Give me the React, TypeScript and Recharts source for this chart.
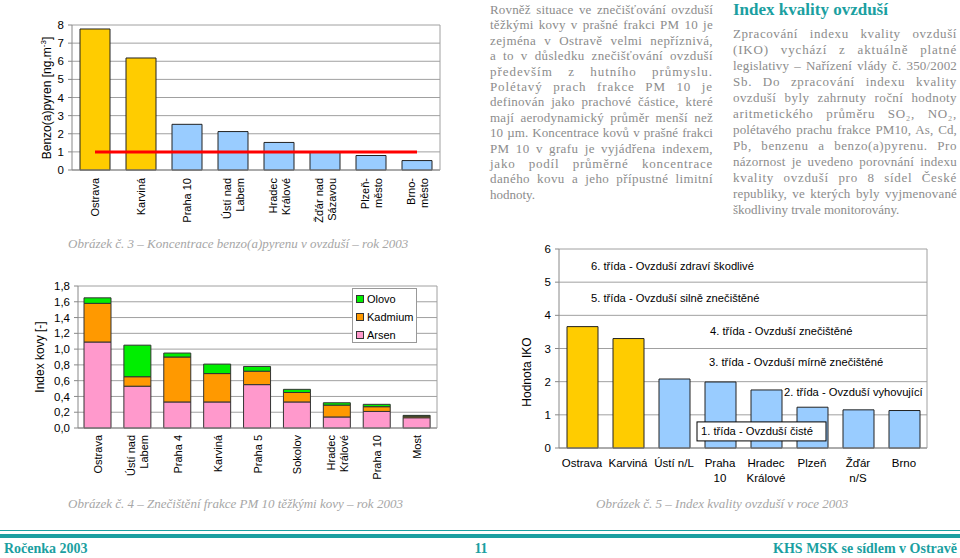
import React from 'react';
import {
  BarChart,
  Bar,
  Line,
  ComposedChart,
  XAxis,
  YAxis,
  CartesianGrid,
  Cell,
  ReferenceLine,
} from 'recharts';

// Obrázek 3 - benzo(a)pyren
const benzoCities = ['Ostrava', 'Karviná', 'Praha 10', 'Ústí nad\nLabem', 'Hradec\nKrálové', 'Žďár nad\nSázavou', 'Plzeň-\nměsto', 'Brno-\nměsto'];
const benzoValues = [7.78, 6.18, 2.52, 2.12, 1.52, 0.98, 0.8, 0.52];
const benzoLimit = [1, 1, 1, 1, 1, 1, 1, 1];
const benzoTicks = [0, 1, 2, 3, 4, 5, 6, 7, 8];

// Obrázek 4 - tezke kovy
const metalCities = ['Ostrava', 'Ústí nad\nLabem', 'Praha 4', 'Karviná', 'Praha 5', 'Sokolov', 'Hradec\nKrálové', 'Praha 10', 'Most'];
const arsen = [1.09, 0.53, 0.33, 0.33, 0.55, 0.33, 0.14, 0.21, 0.13];
const kadmium = [0.49, 0.12, 0.57, 0.36, 0.17, 0.12, 0.15, 0.06, 0.02];
const olovo = [0.07, 0.4, 0.05, 0.12, 0.06, 0.04, 0.03, 0.03, 0.01];
const metalTicks = [0, 0.2, 0.4, 0.6, 0.8, 1.0, 1.2, 1.4, 1.6, 1.8];

// Obrázek 5 - IKO
const ikoCities = ['Ostrava', 'Karviná', 'Ústí n/L', 'Praha\n10', 'Hradec\nKrálové', 'Plzeň', 'Žďár\nn/S', 'Brno'];
const ikoValues = [3.66, 3.3, 2.08, 1.99, 1.75, 1.23, 1.15, 1.13];
const ikoTicks = [0, 1, 2, 3, 4, 5, 6];
const ikoClasses = [
  '1. třída - Ovzduší čisté',
  '2. třída - Ovzduší vyhovující',
  '3. třída - Ovzduší mírně znečištěné',
  '4. třída - Ovzduší znečištěné',
  '5. třída - Ovzduší silně znečištěné',
  '6. třída - Ovzduší zdraví škodlivé',
];

const HIGHLIGHTED = ['Ostrava', 'Karviná'];

const leftText = [
  'Rovněž situace ve znečišťování ovzduší',
  'těžkými kovy v prašné frakci PM 10 je',
  'zejména v Ostravě velmi nepříznivá,',
  'a to v důsledku znečišťování ovzduší',
  'především z hutního průmyslu.',
  'Polétavý prach frakce PM 10 je',
  'definován jako prachové částice, které',
  'mají aerodynamický průměr menší než',
  '10 µm. Koncentrace kovů v prašné frakci',
  'PM 10 v grafu je vyjádřena indexem,',
  'jako podíl průměrné koncentrace',
  'daného kovu a jeho přípustné limitní',
  'hodnoty.',
];

const rightText = [
  'Zpracování indexu kvality ovzduší',
  '(IKO) vychází z aktuálně platné',
  'legislativy – Nařízení vlády č. 350/2002',
  'Sb. Do zpracování indexu kvality',
  'ovzduší byly zahrnuty roční hodnoty',
  'aritmetického průměru SO₂, NO₂,',
  'polétavého prachu frakce PM10, As, Cd,',
  'Pb, benzenu a benzo(a)pyrenu. Pro',
  'názornost je uvedeno porovnání indexu',
  'kvality ovzduší pro 8 sídel České',
  'republiky, ve kterých byly vyjmenované',
  'škodliviny trvale monitorovány.',
];

const SANS = '"Liberation Sans", Arial, sans-serif';
const SERIF = '"Liberation Serif", "DejaVu Serif", serif';
const TEAL = '#1b9fa1';
const GOLD = '#ffcc00';
const BLUE = '#99ccff';
const GRID = '#a0a0a0';
const TEXT_SIZE = 13;

const benzoData = benzoCities.map((c, i) => ({ city: c, value: benzoValues[i], limit: benzoLimit[i] }));
const metalData = metalCities.map((c, i) => ({ city: c, arsen: arsen[i], kadmium: kadmium[i], olovo: olovo[i] }));
const ikoData = ikoCities.map((c, i) => ({ city: c, value: ikoValues[i] }));

let measureCtx: CanvasRenderingContext2D | null = null;
const textWidth = (s: string) => {
  if (!measureCtx) measureCtx = document.createElement('canvas').getContext('2d');
  if (!measureCtx) return 0;
  measureCtx.font = `${TEXT_SIZE}px "Liberation Serif"`;
  return measureCtx.measureText(s).width;
};

const RotTick = (props: any) => {
  const { x, y, payload } = props;
  const parts = String(payload.value).split('\n');
  const lh = 13;
  const start = -((parts.length - 1) * lh) / 2;
  return (
    <g transform={`translate(${x},${y})`}>
      <text transform="rotate(-90)" textAnchor="end" fontSize={11} fill="#000" fontFamily={SANS}>
        {parts.map((p, i) => (
          <tspan key={i} x={0} y={start + i * lh + 4}>{p}</tspan>
        ))}
      </text>
    </g>
  );
};

const FlatTick = (props: any) => {
  const { x, y, payload } = props;
  const parts = String(payload.value).split('\n');
  return (
    <text x={x} y={y} textAnchor="middle" fontSize={11.5} fill="#000" fontFamily={SANS}>
      {parts.map((p, i) => (
        <tspan key={i} x={x} y={y + 11 + i * 15}>{p}</tspan>
      ))}
    </text>
  );
};

const AxisTitle = ({ cx, cy, children }: { cx: number; cy: number; children: React.ReactNode }) => (
  <div
    style={{
      position: 'absolute',
      left: cx,
      top: cy,
      transform: 'translate(-50%, -50%) rotate(-90deg)',
      whiteSpace: 'nowrap',
      fontFamily: SANS,
      fontSize: 12,
      color: '#000',
    }}
  >
    {children}
  </div>
);

const metalLegend = [
  { name: 'Olovo', color: '#00ee00' },
  { name: 'Kadmium', color: '#ff9900' },
  { name: 'Arsen', color: '#ff99cc' },
];

const MetalLegend = () => (
  <div
    style={{
      position: 'absolute',
      left: 352,
      top: 288,
      width: 65,
      height: 55,
      boxSizing: 'border-box',
      border: '1px solid #999',
      background: '#fff',
      padding: '1px 0 0 3px',
    }}
  >
    {metalLegend.map((it) => (
      <div key={it.name} style={{ display: 'flex', alignItems: 'center', height: 18, fontFamily: SANS, fontSize: 11 }}>
        <span style={{ width: 6, height: 6, background: it.color, border: '1px solid #333', marginRight: 3 }} />
        {it.name}
      </div>
    ))}
  </div>
);

const BoxLabel = (props: any) => {
  const { viewBox, value } = props;
  const x = viewBox.x + 138;
  const y = viewBox.y;
  return (
    <g>
      <rect x={x} y={y - 9.5} width={129} height={19} fill="#fff" stroke="#000" />
      <text x={x + 4} y={y + 4} fontSize={11.2} fontFamily={SANS} fill="#000">{value}</text>
    </g>
  );
};

// label positions for IKO classes (value axis, horizontal offset from plot left)
const classLabelPos = [
  { y: 0.5, dx: 138 },
  { y: 1.69, dx: 225 },
  { y: 2.6, dx: 150 },
  { y: 3.53, dx: 151 },
  { y: 4.52, dx: 32 },
  { y: 5.5, dx: 32 },
];

const Paragraph = ({ lines, left, top, width, lh }: { lines: string[]; left: number; top: number; width: number; lh: number }) => (
  <div style={{ position: 'absolute', left, top, width, fontFamily: SERIF, fontSize: TEXT_SIZE, color: '#8c8c8c', lineHeight: `${lh}px` }}>
    {lines.map((l, i) => {
      const last = i === lines.length - 1;
      const extra = width - textWidth(l);
      const ls = !last && extra > 0 ? (extra * 0.45) / l.length : 0;
      return (
        <div
          key={i}
          style={{
            height: lh,
            letterSpacing: ls,
            whiteSpace: extra < 0 ? 'nowrap' : 'normal',
            textAlign: last ? 'left' : 'justify',
            textAlignLast: last ? 'left' : 'justify',
          } as React.CSSProperties}
        >
          {l}
        </div>
      );
    })}
  </div>
);

const Caption = ({ left, top, children }: { left: number; top: number; children: React.ReactNode }) => (
  <div style={{ position: 'absolute', left, top, fontFamily: SERIF, fontStyle: 'italic', fontSize: 13, color: '#a6a6a6', whiteSpace: 'nowrap' }}>
    {children}
  </div>
);

export default function App() {
  return (
    <div style={{ position: 'absolute', left: 0, top: 0, width: 960, height: 558, background: '#fff', overflow: 'hidden' }}>
      {/* Obrázek 3 */}
      <div style={{ position: 'absolute', left: 0, top: 0 }}>
        <ComposedChart width={450} height={230} data={benzoData} margin={{ top: 25, right: 9, left: 0, bottom: 0 }}>
          <CartesianGrid horizontal vertical={false} stroke={GRID} />
          <XAxis dataKey="city" interval={0} height={60} tick={<RotTick />} tickLine={false} axisLine={{ stroke: '#888' }} />
          <YAxis
            width={72}
            domain={[0, 8]}
            ticks={benzoTicks}
            interval={0}
            tickSize={4}
            tickMargin={4}
            tick={{ fontSize: 11.5, fill: '#000', fontFamily: SANS }}
            axisLine={{ stroke: '#888' }}
            tickLine={{ stroke: '#888' }}
          />
          <YAxis yAxisId="r" orientation="right" width={1} tick={false} tickLine={false} axisLine={{ stroke: GRID }} />
          <Bar dataKey="value" barSize={30} stroke="#222" strokeWidth={1} isAnimationActive={false}>
            {benzoData.map((d) => (
              <Cell key={d.city} fill={HIGHLIGHTED.includes(d.city) ? GOLD : BLUE} />
            ))}
          </Bar>
          <Line dataKey="limit" type="linear" stroke="#ff0000" strokeWidth={3} dot={false} isAnimationActive={false} />
        </ComposedChart>
      </div>
      <AxisTitle cx={47} cy={98}>
        Benzo(a)pyren [ng.m<sup style={{ fontSize: 8, lineHeight: 0 }}>-3</sup>]
      </AxisTitle>
      <Caption left={68} top={236}>Obrázek č. 3 – Koncentrace benzo(a)pyrenu v ovzduší – rok 2003</Caption>

      {/* Obrázek 4 */}
      <div style={{ position: 'absolute', left: 0, top: 270 }}>
        <BarChart width={450} height={230} data={metalData} margin={{ top: 16, right: 12, left: 0, bottom: 0 }}>
          <CartesianGrid horizontal vertical={false} stroke={GRID} />
          <XAxis dataKey="city" interval={0} height={72} tick={<RotTick />} tickLine={false} tickSize={5} axisLine={{ stroke: '#888' }} />
          <YAxis
            width={78}
            domain={[0, 1.8]}
            ticks={metalTicks}
            interval={0}
            tickFormatter={(v: number) => v.toFixed(1).replace('.', ',')}
            tickSize={4}
            tickMargin={4}
            tick={{ fontSize: 11.5, fill: '#000', fontFamily: SANS }}
            axisLine={{ stroke: '#888' }}
            tickLine={{ stroke: '#888' }}
          />
          <YAxis yAxisId="r" orientation="right" width={1} tick={false} tickLine={false} axisLine={{ stroke: GRID }} />
          <Bar dataKey="arsen" name="Arsen" stackId="a" fill="#ff99cc" stroke="#333" barSize={27} isAnimationActive={false} />
          <Bar dataKey="kadmium" name="Kadmium" stackId="a" fill="#ff9900" stroke="#333" barSize={27} isAnimationActive={false} />
          <Bar dataKey="olovo" name="Olovo" stackId="a" fill="#00ee00" stroke="#333" barSize={27} isAnimationActive={false} />
        </BarChart>
      </div>
      <MetalLegend />
      <AxisTitle cx={40} cy={357}>Index kovy [-]</AxisTitle>
      <Caption left={68} top={496}>Obrázek č. 4 – Znečištění frakce PM 10 těžkými kovy – rok 2003</Caption>

      {/* Obrázek 5 */}
      <div style={{ position: 'absolute', left: 490, top: 240 }}>
        <BarChart width={470} height={260} data={ikoData} margin={{ top: 9, right: 32, left: 0, bottom: 0 }}>
          <CartesianGrid horizontal vertical={false} stroke={GRID} />
          <XAxis dataKey="city" interval={0} height={52} tick={<FlatTick />} tickLine={false} axisLine={{ stroke: '#888' }} />
          <YAxis
            width={69}
            domain={[0, 6]}
            ticks={ikoTicks}
            interval={0}
            tickSize={4}
            tickMargin={4}
            tick={{ fontSize: 11.5, fill: '#000', fontFamily: SANS }}
            axisLine={{ stroke: '#888' }}
            tickLine={{ stroke: '#888' }}
          />
          <YAxis yAxisId="r" orientation="right" width={1} tick={false} tickLine={false} axisLine={{ stroke: GRID }} />
          <Bar dataKey="value" barSize={31} stroke="#222" isAnimationActive={false}>
            {ikoData.map((d) => (
              <Cell key={d.city} fill={HIGHLIGHTED.includes(d.city) ? GOLD : BLUE} />
            ))}
          </Bar>
          {ikoClasses.map((cls, i) =>
            i === 0 ? (
              <ReferenceLine key={cls} y={classLabelPos[i].y} stroke="none" label={<BoxLabel value={cls} />} />
            ) : (
              <ReferenceLine
                key={cls}
                y={classLabelPos[i].y}
                stroke="none"
                label={{ value: cls, position: 'insideLeft', offset: classLabelPos[i].dx, fontSize: 11.2, fill: '#000', fontFamily: SANS }}
              />
            )
          )}
        </BarChart>
      </div>
      <AxisTitle cx={527} cy={372}>Hodnota IKO</AxisTitle>
      <Caption left={596} top={496}>Obrázek č. 5 – Index kvality ovzduší v roce 2003</Caption>

      {/* texts */}
      <Paragraph lines={leftText} left={490} top={2} width={223} lh={15.4} />
      <div style={{ position: 'absolute', left: 733, top: 0, fontFamily: SERIF, fontWeight: 'bold', fontSize: 17, color: TEAL, whiteSpace: 'nowrap' }}>
        Index kvality ovzduší
      </div>
      <Paragraph lines={rightText} left={733} top={26} width={224} lh={16} />

      {/* footer */}
      <div style={{ position: 'absolute', left: 0, top: 530, width: 960, height: 1, background: TEAL }} />
      <div style={{ position: 'absolute', left: 0, top: 534, width: 960, height: 4, background: TEAL }} />
      <div style={{ position: 'absolute', left: 4, top: 541, fontFamily: SERIF, fontWeight: 'bold', fontSize: 14, color: TEAL }}>Ročenka 2003</div>
      <div style={{ position: 'absolute', left: 0, top: 541, width: 962, textAlign: 'center', fontFamily: SERIF, fontWeight: 'bold', fontSize: 14, color: TEAL }}>11</div>
      <div style={{ position: 'absolute', right: 3, top: 541, fontFamily: SERIF, fontWeight: 'bold', fontSize: 14, color: TEAL, whiteSpace: 'nowrap' }}>KHS MSK se sídlem v Ostravě</div>
    </div>
  );
}
